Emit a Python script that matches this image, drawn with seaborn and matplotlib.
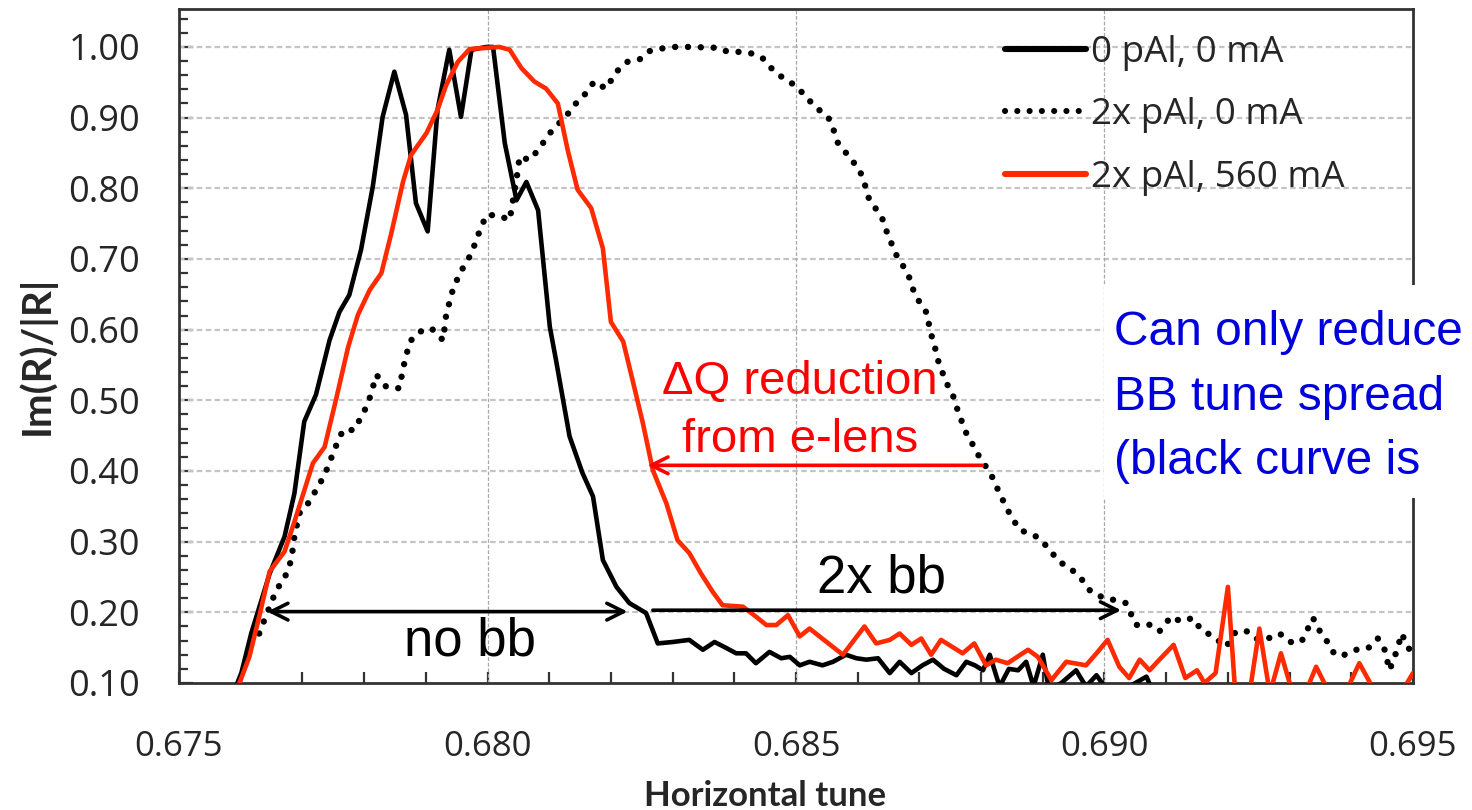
import numpy as np
import pandas as pd
import matplotlib
matplotlib.use("Agg")
import matplotlib.pyplot as plt
import seaborn as sns
from matplotlib.patches import Rectangle
from matplotlib.ticker import MultipleLocator, FormatStrFormatter

# ---------------- data ----------------
tune_black = [0.67590, 0.67601, 0.67617, 0.67647, 0.67671, 0.67687, 0.67703, 0.67722, 0.67744, 0.67760,
              0.67776, 0.67795, 0.67814, 0.67830, 0.67849, 0.67868, 0.67884, 0.67903, 0.67919, 0.67938,
              0.67957, 0.67974, 0.67998, 0.68009, 0.68028, 0.68047, 0.68063, 0.68082, 0.68101, 0.68111,
              0.68133, 0.68154, 0.68171, 0.68187, 0.68209, 0.68230, 0.68257, 0.68276, 0.68300, 0.68327,
              0.68349, 0.68368, 0.68386, 0.68403, 0.68419, 0.68435, 0.68457, 0.68476, 0.68490, 0.68506,
              0.68522, 0.68543, 0.68560, 0.68581, 0.68598, 0.68614, 0.68633, 0.68652, 0.68668, 0.68687,
              0.68705, 0.68722, 0.68740, 0.68760, 0.68776, 0.68790, 0.68803, 0.68814, 0.68830, 0.68845,
              0.68860, 0.68873, 0.68885, 0.68900, 0.68910, 0.68930, 0.68954, 0.68970, 0.68987, 0.69000,
              0.69030, 0.69068, 0.69080, 0.69100, 0.69130, 0.69160, 0.69190, 0.69220, 0.69250, 0.69280,
              0.69310, 0.69340, 0.69370, 0.69400, 0.69430, 0.69460, 0.69500]
resp_black = [0.090, 0.114, 0.170, 0.255, 0.307, 0.368, 0.470, 0.508, 0.585, 0.625,
              0.649, 0.713, 0.802, 0.901, 0.965, 0.904, 0.779, 0.739, 0.911, 0.996,
              0.901, 0.996, 1.000, 1.000, 0.864, 0.783, 0.809, 0.769, 0.604, 0.557,
              0.449, 0.397, 0.364, 0.274, 0.236, 0.213, 0.199, 0.156, 0.158, 0.161,
              0.147, 0.158, 0.150, 0.142, 0.142, 0.128, 0.144, 0.135, 0.137, 0.125,
              0.130, 0.125, 0.130, 0.140, 0.135, 0.133, 0.135, 0.114, 0.130, 0.114,
              0.125, 0.133, 0.120, 0.111, 0.130, 0.125, 0.118, 0.140, 0.095, 0.120,
              0.118, 0.130, 0.095, 0.140, 0.090, 0.100, 0.118, 0.095, 0.111, 0.095,
              0.090, 0.109, 0.085, 0.090, 0.080, 0.085, 0.080, 0.085, 0.080, 0.085,
              0.080, 0.085, 0.080, 0.085, 0.080, 0.085, 0.080]

tune_red = [0.67590, 0.67598, 0.67614, 0.67630, 0.67647, 0.67671, 0.67687, 0.67717, 0.67736, 0.67755,
            0.67774, 0.67790, 0.67809, 0.67828, 0.67844, 0.67863, 0.67876, 0.67901, 0.67919, 0.67933,
            0.67952, 0.67971, 0.68019, 0.68036, 0.68055, 0.68076, 0.68095, 0.68114, 0.68130, 0.68146,
            0.68168, 0.68187, 0.68200, 0.68220, 0.68235, 0.68252, 0.68268, 0.68290, 0.68308, 0.68327,
            0.68346, 0.68365, 0.68381, 0.68414, 0.68435, 0.68452, 0.68468, 0.68487, 0.68506, 0.68522,
            0.68538, 0.68576, 0.68611, 0.68630, 0.68652, 0.68668, 0.68687, 0.68703, 0.68719, 0.68735,
            0.68770, 0.68789, 0.68808, 0.68824, 0.68843, 0.68876, 0.68892, 0.68914, 0.68938, 0.68970,
            0.68989, 0.69005, 0.69024, 0.69040, 0.69057, 0.69073, 0.69089, 0.69112, 0.69131, 0.69150,
            0.69162, 0.69180, 0.69200, 0.69212, 0.69235, 0.69251, 0.69268, 0.69286, 0.69305, 0.69325,
            0.69343, 0.69365, 0.69390, 0.69413, 0.69440, 0.69480, 0.69500]
resp_red = [0.080, 0.100, 0.137, 0.194, 0.258, 0.286, 0.328, 0.411, 0.434, 0.503,
            0.575, 0.621, 0.656, 0.680, 0.736, 0.809, 0.847, 0.878, 0.911, 0.946,
            0.979, 0.997, 1.000, 0.996, 0.970, 0.951, 0.941, 0.920, 0.854, 0.798,
            0.772, 0.715, 0.611, 0.583, 0.529, 0.467, 0.401, 0.354, 0.302, 0.284,
            0.255, 0.229, 0.210, 0.208, 0.194, 0.182, 0.182, 0.196, 0.166, 0.177,
            0.166, 0.140, 0.180, 0.156, 0.161, 0.170, 0.154, 0.163, 0.140, 0.161,
            0.142, 0.156, 0.125, 0.133, 0.128, 0.147, 0.137, 0.104, 0.130, 0.125,
            0.144, 0.161, 0.123, 0.107, 0.133, 0.118, 0.133, 0.154, 0.107, 0.118,
            0.100, 0.114, 0.236, 0.085, 0.085, 0.177, 0.085, 0.142, 0.085, 0.085,
            0.123, 0.085, 0.085, 0.128, 0.085, 0.085, 0.114]

tune_dot = [0.67630, 0.67636, 0.67658, 0.67671, 0.67682, 0.67687, 0.67695, 0.67712, 0.67722, 0.67730,
            0.67739, 0.67749, 0.67757, 0.67766, 0.67784, 0.67801, 0.67809, 0.67820, 0.67836, 0.67857,
            0.67865, 0.67874, 0.67890, 0.67909, 0.67928, 0.67933, 0.67943, 0.67955, 0.67963, 0.67974,
            0.67987, 0.67998, 0.68017, 0.68036, 0.68049, 0.68052, 0.68068, 0.68082, 0.68101, 0.68114,
            0.68133, 0.68141, 0.68157, 0.68173, 0.68192, 0.68209, 0.68227, 0.68246, 0.68262, 0.68284,
            0.68300, 0.68319, 0.68338, 0.68354, 0.68373, 0.68390, 0.68408, 0.68427, 0.68446, 0.68460,
            0.68479, 0.68498, 0.68514, 0.68530, 0.68552, 0.68560, 0.68568, 0.68584, 0.68603, 0.68611,
            0.68619, 0.68633, 0.68641, 0.68646, 0.68657, 0.68665, 0.68676, 0.68684, 0.68692, 0.68703,
            0.68714, 0.68716, 0.68722, 0.68727, 0.68730, 0.68743, 0.68754, 0.68762, 0.68770, 0.68778,
            0.68789, 0.68797, 0.68808, 0.68819, 0.68830, 0.68846, 0.68862, 0.68890, 0.68907, 0.68926,
            0.68945, 0.68962, 0.68978, 0.69000, 0.69019, 0.69035, 0.69051, 0.69070, 0.69089, 0.69108,
            0.69124, 0.69143, 0.69157, 0.69176, 0.69197, 0.69213, 0.69232, 0.69249, 0.69265, 0.69284,
            0.69300, 0.69319, 0.69338, 0.69351, 0.69365, 0.69373, 0.69389, 0.69408, 0.69427, 0.69443,
            0.69454, 0.69462, 0.69476, 0.69481, 0.69490, 0.69500]
resp_dot = [0.170, 0.184, 0.232, 0.248, 0.274, 0.307, 0.340, 0.357, 0.373, 0.385,
            0.401, 0.423, 0.441, 0.458, 0.458, 0.486, 0.503, 0.536, 0.519, 0.517,
            0.552, 0.583, 0.597, 0.602, 0.585, 0.621, 0.654, 0.680, 0.691, 0.708,
            0.739, 0.762, 0.762, 0.755, 0.824, 0.845, 0.840, 0.854, 0.878, 0.890,
            0.908, 0.918, 0.932, 0.951, 0.941, 0.965, 0.979, 0.982, 0.994, 0.998,
            1.000, 1.000, 1.000, 0.999, 0.999, 0.993, 0.993, 0.991, 0.984, 0.970,
            0.956, 0.946, 0.932, 0.916, 0.901, 0.885, 0.864, 0.847, 0.826, 0.807,
            0.783, 0.767, 0.755, 0.741, 0.717, 0.701, 0.687, 0.673, 0.651, 0.635,
            0.621, 0.602, 0.585, 0.569, 0.557, 0.526, 0.508, 0.486, 0.467, 0.449,
            0.434, 0.420, 0.406, 0.390, 0.368, 0.340, 0.317, 0.307, 0.293, 0.272,
            0.262, 0.248, 0.229, 0.220, 0.217, 0.213, 0.182, 0.184, 0.173, 0.194,
            0.187, 0.192, 0.175, 0.166, 0.151, 0.173, 0.173, 0.161, 0.163, 0.170,
            0.158, 0.158, 0.192, 0.170, 0.154, 0.140, 0.140, 0.147, 0.149, 0.163,
            0.147, 0.118, 0.151, 0.170, 0.156, 0.135]

labels = ["0 pAl, 0 mA", "2x pAl, 0 mA", "2x pAl, 560 mA"]
x_ticks = [0.675, 0.680, 0.685, 0.690, 0.695]
y_ticks = [0.10, 0.20, 0.30, 0.40, 0.50, 0.60, 0.70, 0.80, 0.90, 1.00]

# ---------------- styling ----------------
sns.set_theme(style="white")
plt.rcParams['font.family'] = ['Open Sans', 'DejaVu Sans']

W, H = 1472, 810
fig = plt.figure(figsize=(W / 100, H / 100), dpi=100)
L, R, T, B = 179, 1413, 9, 683
ax = fig.add_axes([L / W, 1 - B / H, (R - L) / W, (B - T) / H])

red = "#FF2A00"
df_b = pd.DataFrame({"tune": tune_black, "r": resp_black})
df_d = pd.DataFrame({"tune": tune_dot, "r": resp_dot})
df_r = pd.DataFrame({"tune": tune_red, "r": resp_red})

sns.lineplot(data=df_b, x="tune", y="r", ax=ax, color="black", lw=3.3, sort=False,
             estimator=None, label=labels[0], zorder=4)
sns.lineplot(data=df_d, x="tune", y="r", ax=ax, color="black", lw=4.6, sort=False,
             estimator=None, label=labels[1], zorder=3,
             linestyle=(0, (0.01, 2.0)), dash_capstyle="round")
sns.lineplot(data=df_r, x="tune", y="r", ax=ax, color=red, lw=3.3, sort=False,
             estimator=None, label=labels[2], zorder=5)

ax.set_xlim(0.675, 0.695)
ax.set_ylim(0.10, 1.0537)
ax.set_xticks(x_ticks)
ax.set_yticks(y_ticks)
ax.xaxis.set_minor_locator(MultipleLocator(0.001))
ax.yaxis.set_minor_locator(MultipleLocator(0.02))
ax.xaxis.set_major_formatter(FormatStrFormatter("%.3f"))
ax.yaxis.set_major_formatter(FormatStrFormatter("%.2f"))
ax.tick_params(axis="both", which="both", direction="in", color="#333333")
ax.tick_params(axis="y", which="major", length=10, width=1.6, labelsize=26, pad=28, left=True)
ax.tick_params(axis="y", which="minor", length=6.5, width=1.6, left=True)
ax.tick_params(axis="x", which="major", length=8, width=1.6, labelsize=25, pad=34, bottom=True)
ax.tick_params(axis="x", which="minor", length=8, width=1.6, bottom=True)
ax.set_xlabel("")
ax.set_ylabel("")

ax.grid(False)
for yv in y_ticks[1:]:
    ax.axhline(yv, color="#C4C4C4", lw=1.6, ls=(0, (2.5, 1.5)), zorder=1)
for xv in x_ticks[1:-1]:
    ax.axvline(xv, color="#A8A8A8", lw=0.9, ls=(0, (3, 1.5)), zorder=1)

for s in ax.spines.values():
    s.set_color("#333333")
    s.set_linewidth(2.0)

leg = ax.legend(loc="upper left", bbox_to_anchor=((1005 - L) / (R - L), 0.962), frameon=False,
                fontsize=26.5, handlelength=2.2, handletextpad=0.15, labelspacing=0.72,
                borderaxespad=0.0, borderpad=0.0)
for h in leg.get_lines():
    h.set_linewidth(4.4)

# ---------------- annotations ----------------
arrow_kw = dict(shrinkA=0, shrinkB=0, mutation_scale=30)
ax.annotate("", xy=(0.67643, 0.201), xytext=(0.68227, 0.201),
            arrowprops=dict(arrowstyle="<->", lw=2.6, color="black", **arrow_kw), zorder=6)
ax.annotate("", xy=(0.69027, 0.203), xytext=(0.68268, 0.203),
            arrowprops=dict(arrowstyle="->", lw=2.6, color="black", **arrow_kw), zorder=6)
ax.annotate("", xy=(0.68259, 0.408), xytext=(0.68802, 0.408),
            arrowprops=dict(arrowstyle="->", lw=2.6, color="#FF0000", **arrow_kw), zorder=6)

ann_font = ["Liberation Sans", "DejaVu Sans"]
ax.text(0.67971, 0.1396, "no bb", ha="center", va="baseline", fontsize=38,
        family=ann_font, color="black", zorder=7)
ax.text(0.68639, 0.2274, "2x bb", ha="center", va="baseline", fontsize=38,
        family=ann_font, color="black", zorder=7)
ax.text(0.68506, 0.509, "\u0394Q reduction", ha="center", va="baseline", fontsize=34,
        family=ann_font, color="#FF0000", zorder=7)
ax.text(0.68506, 0.4269, "from e-lens", ha="center", va="baseline", fontsize=34,
        family=ann_font, color="#FF0000", zorder=7)

# blue note box covering the right edge of the plot
fig.patches.append(Rectangle((1104 / W, 1 - 498 / H), (W - 1104) / W + 0.01, (498 - 285) / H,
                             transform=fig.transFigure, facecolor="white", edgecolor="none",
                             zorder=2))
blue = "#0000DD"
for txt, base in [("Can only reduce", 345), ("BB tune spread", 410), ("(black curve is", 474)]:
    fig.text(1114 / W, 1 - base / H, txt, ha="left", va="baseline", fontsize=34.5,
             family=ann_font, color=blue, zorder=3)

# axis titles
lab_font = ["Lato", "DejaVu Sans"]
fig.text(765 / W, 1 - 806 / H, "Horizontal tune", ha="center", va="baseline",
         fontsize=25, fontweight="bold", family=lab_font)
fig.text(36 / W, 1 - 355 / H, "Im(R)/|R|", ha="center", va="center", rotation=90,
         fontsize=29, fontweight="bold", family=lab_font)

fig.savefig("out.png", dpi=100)
